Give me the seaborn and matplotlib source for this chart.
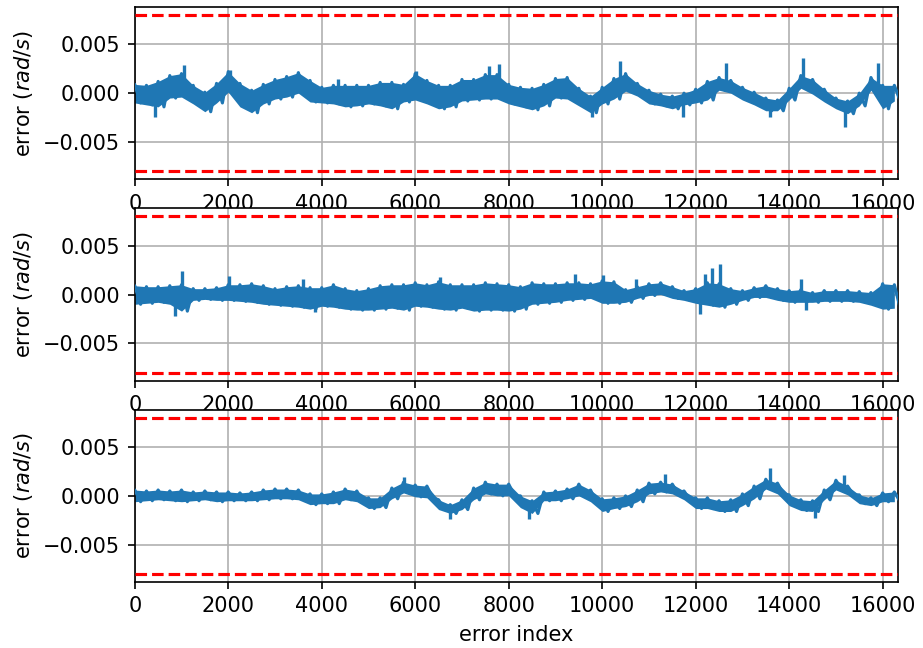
import numpy as np
import pandas as pd
import matplotlib
matplotlib.use("Agg")
import matplotlib.pyplot as plt
import seaborn as sns

# ---------------- data ----------------
# band extremes of the error trace, sampled every 250 samples of "error index"
error_index = list(range(0, 16251, 250))

p1_upper = [0.0009, 0.0008, 0.0012, 0.0018, 0.0020, 0.0008, 0.0001, 0.0010, 0.0022, 0.0010,
            0.0003, 0.0009, 0.0014, 0.0017, 0.0021, 0.0013, 0.0006, 0.0008, 0.0008, 0.0008,
            0.0008, 0.0011, 0.0011, 0.0009, 0.0020, 0.0013, 0.0008, 0.0008, 0.0014, 0.0014,
            0.0019, 0.0019, 0.0009, 0.0006, 0.0005, 0.0009, 0.0015, 0.0016, 0.0005, -0.0003,
            0.0006, 0.0015, 0.0020, 0.0010, 0.0003, -0.0001, -0.0003, 0.0000, 0.0004, 0.0012,
            0.0016, 0.0013, 0.0006, 0.0001, -0.0005, -0.0007, 0.0005, 0.0018, 0.0014, 0.0004,
            -0.0005, -0.0008, 0.0000, 0.0016, 0.0008, 0.0008]
p1_lower = [-0.0010, -0.0012, -0.0014, -0.0005, -0.0004, -0.0011, -0.0019, -0.0010, 0.0001, -0.0014,
            -0.0020, -0.0011, -0.0006, -0.0004, 0.0000, -0.0009, -0.0010, -0.0011, -0.0014, -0.0013,
            -0.0011, -0.0013, -0.0016, -0.0009, -0.0007, -0.0011, -0.0016, -0.0014, -0.0008, -0.0007,
            -0.0006, -0.0006, -0.0011, -0.0014, -0.0017, -0.0013, -0.0005, -0.0006, -0.0013, -0.0020,
            -0.0011, -0.0006, 0.0002, -0.0003, -0.0011, -0.0013, -0.0016, -0.0012, -0.0010, -0.0007,
            0.0003, 0.0000, -0.0007, -0.0012, -0.0018, -0.0018, -0.0007, 0.0005, -0.0001, -0.0009,
            -0.0016, -0.0021, -0.0013, 0.0003, -0.0016, -0.0008]
p1_spike_index = [430, 1060, 2035, 4355, 6020, 7570, 7785, 9780, 10390, 11730, 12650, 13590, 14300, 15200, 15890]
p1_spike_value = [-0.0024, 0.0029, 0.0024, 0.0015, 0.0023, 0.0028, 0.0030, -0.0024, 0.0033, -0.0024,
                  0.0031, -0.0024, 0.0036, -0.0035, 0.0031]

p2_upper = [0.0009, 0.0008, 0.0008, 0.0009, 0.0010, 0.0006, 0.0006, 0.0007, 0.0010, 0.0010,
            0.0011, 0.0009, 0.0006, 0.0008, 0.0009, 0.0007, 0.0007, 0.0010, 0.0006, 0.0004,
            0.0006, 0.0009, 0.0010, 0.0010, 0.0012, 0.0010, 0.0013, 0.0010, 0.0010, 0.0010,
            0.0012, 0.0011, 0.0010, 0.0008, 0.0012, 0.0011, 0.0011, 0.0012, 0.0012, 0.0011,
            0.0014, 0.0013, 0.0005, 0.0008, 0.0011, 0.0012, 0.0008, 0.0004, 0.0006, 0.0012,
            0.0011, 0.0006, 0.0004, 0.0007, 0.0009, 0.0006, 0.0004, 0.0005, 0.0002, 0.0004,
            0.0004, 0.0004, 0.0003, 0.0002, 0.0011, 0.0010]
p2_lower = [-0.0010, -0.0009, -0.0008, -0.0010, -0.0017, -0.0006, -0.0005, -0.0006, -0.0006, -0.0007,
            -0.0008, -0.0010, -0.0011, -0.0012, -0.0013, -0.0015, -0.0012, -0.0013, -0.0015, -0.0016,
            -0.0016, -0.0015, -0.0014, -0.0016, -0.0012, -0.0013, -0.0015, -0.0016, -0.0014, -0.0017,
            -0.0016, -0.0016, -0.0017, -0.0015, -0.0010, -0.0009, -0.0008, -0.0006, -0.0005, -0.0004,
            -0.0009, -0.0009, -0.0008, -0.0004, -0.0001, 0.0000, -0.0004, -0.0006, -0.0009, -0.0011,
            -0.0013, -0.0010, -0.0006, -0.0003, -0.0003, -0.0006, -0.0008, -0.0008, -0.0008, -0.0007,
            -0.0007, -0.0007, -0.0008, -0.0011, -0.0015, -0.0014]
p2_spike_index = [860, 1000, 2010, 3600, 3850, 6530, 9410, 10020, 10730, 12100, 12200, 12350, 12510, 14245, 14350]
p2_spike_value = [-0.0022, 0.0024, 0.0019, 0.0016, -0.0018, 0.0018, 0.0021, 0.0020, 0.0016, -0.0020,
                  0.0021, 0.0027, 0.0031, 0.0016, -0.0016]

p3_upper = [0.0006, 0.0005, 0.0006, 0.0005, 0.0006, 0.0004, 0.0005, 0.0004, 0.0004, 0.0003,
            0.0004, 0.0006, 0.0007, 0.0007, 0.0006, 0.0002, 0.0002, 0.0004, 0.0007, 0.0005,
            -0.0002, -0.0002, 0.0008, 0.0014, 0.0011, 0.0010, -0.0004, -0.0009, -0.0004, 0.0008,
            0.0014, 0.0012, 0.0012, 0.0000, -0.0005, 0.0004, 0.0005, 0.0007, 0.0012, 0.0006,
            -0.0003, -0.0002, 0.0000, 0.0006, 0.0013, 0.0014, 0.0012, 0.0005, -0.0002, -0.0002,
            -0.0005, -0.0004, 0.0002, 0.0010, 0.0017, 0.0013, 0.0001, -0.0004, -0.0005, 0.0006,
            0.0016, 0.0010, 0.0001, -0.0002, 0.0003, 0.0004]
p3_lower = [-0.0006, -0.0005, -0.0004, -0.0005, -0.0006, -0.0005, -0.0004, -0.0006, -0.0005, -0.0005,
            -0.0005, -0.0004, -0.0003, -0.0003, -0.0004, -0.0009, -0.0008, -0.0008, -0.0004, -0.0006,
            -0.0013, -0.0012, -0.0003, 0.0003, -0.0001, -0.0002, -0.0014, -0.0018, -0.0014, -0.0004,
            0.0002, 0.0000, 0.0000, -0.0012, -0.0018, -0.0005, -0.0005, -0.0003, 0.0000, -0.0006,
            -0.0016, -0.0013, -0.0011, -0.0006, 0.0002, 0.0004, 0.0002, -0.0004, -0.0013, -0.0013,
            -0.0016, -0.0016, -0.0010, -0.0003, 0.0007, 0.0002, -0.0010, -0.0015, -0.0016, -0.0004,
            0.0006, 0.0001, -0.0008, -0.0010, -0.0006, -0.0006]
p3_spike_index = [5760, 6750, 8430, 11350, 13600, 14550, 15170]
p3_spike_value = [0.0019, -0.0024, -0.0024, 0.0022, 0.0028, -0.0023, 0.0021]

limit = 0.008
x_ticks = [0, 2000, 4000, 6000, 8000, 10000, 12000, 14000, 16000]
y_ticks = [-0.005, 0.0, 0.005]
n_samples = 16330

panels = [
    (p1_upper, p1_lower, p1_spike_index, p1_spike_value),
    (p2_upper, p2_lower, p2_spike_index, p2_spike_value),
    (p3_upper, p3_lower, p3_spike_index, p3_spike_value),
]

# ---------------- style ----------------
sns.set_style("ticks", {"axes.grid": True, "grid.color": "#b0b0b0",
                        "axes.edgecolor": "black", "xtick.color": "black",
                        "ytick.color": "black", "text.color": "black",
                        "axes.labelcolor": "black"})
plt.rcParams["font.family"] = ["DejaVu Sans"]
plt.rcParams["font.size"] = 10
plt.rcParams["axes.unicode_minus"] = True

blue = "#1f77b4"
fig, axes = plt.subplots(3, 1, figsize=(923 / 150, 648 / 150), dpi=150)
fig.subplots_adjust(left=0.146, right=0.973, top=0.989, bottom=0.102, hspace=0.17)

step = error_index[1] - error_index[0]
for ax, (up, lo, sx, sy) in zip(axes, panels):
    # noisy trace: alternate between the read band extremes
    xs, ys = [], []
    for x, u, l in zip(error_index, up, lo):
        xs += [x, x + step / 2]
        ys += [u, l]
    df = pd.DataFrame({"index": xs, "error": ys})
    ax.fill_between(error_index, lo, up, color=blue, lw=0, zorder=2)
    sns.lineplot(data=df, x="index", y="error", ax=ax, sort=False, estimator=None,
                 color=blue, lw=1.5, zorder=3)
    # isolated spikes, rising from the middle of the band they sit in
    bins = [min(int(round(s / step)), len(up) - 1) for s in sx]
    base = [(up[b] + lo[b]) / 2 for b in bins]
    ax.vlines(sx, base, sy, color=blue, lw=1.6, zorder=3)
    ax.axhline(limit, color="red", ls="--", lw=1.5, zorder=4)
    ax.axhline(-limit, color="red", ls="--", lw=1.5, zorder=4)
    ax.set_xlim(0, n_samples)
    ax.set_ylim(-0.0088, 0.0088)
    ax.set_xticks(x_ticks)
    ax.set_yticks(y_ticks)
    ax.set_axisbelow(True)
    ax.grid(True, color="#b0b0b0", lw=0.8)
    ax.set_ylabel(r"error ($\it{rad/s}$)")
    ax.set_xlabel("")
    for s in ax.spines.values():
        s.set_visible(True)
        s.set_color("black")

axes[-1].set_xlabel("error index")

fig.savefig("out.png", dpi=150)
